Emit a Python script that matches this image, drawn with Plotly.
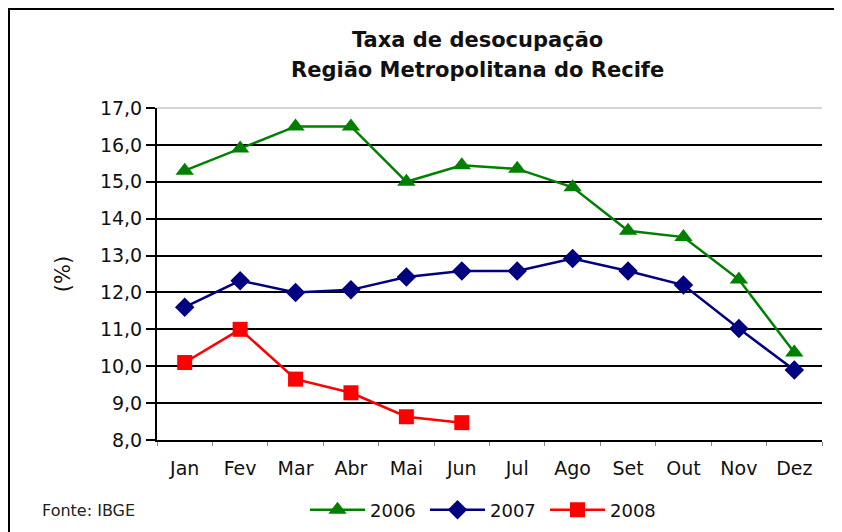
import plotly.graph_objects as go

months = ["Jan", "Fev", "Mar", "Abr", "Mai", "Jun", "Jul", "Ago", "Set", "Out", "Nov", "Dez"]
y2006 = [15.3, 15.9, 16.5, 16.5, 15.0, 15.45, 15.35, 14.85, 13.67, 13.5, 12.35, 10.37]
y2007 = [11.6, 12.32, 12.0, 12.07, 12.42, 12.58, 12.58, 12.92, 12.58, 12.2, 11.02, 9.9]
y2008 = [10.1, 11.0, 9.65, 9.28, 8.63, 8.47]
y_ticks = [8, 9, 10, 11, 12, 13, 14, 15, 16, 17]
grid_vals = [9, 10, 11, 12, 13, 14, 15, 16]

TICK_FONT = "DejaVu Sans"
OFF = 8  # page body margin
W, H = 842 - OFF, 532 - OFF
PL, PR, PT, PB = 157, 822, 108, 440  # plot area in page pixels


def px(x):
    return (x - PL) / (PR - PL)


def py(y):
    return (PB - y) / (PB - PT)


fig = go.Figure()
fig.add_trace(go.Scatter(x=months, y=y2006, name="2006", mode="lines+markers",
                         line=dict(color="#008000", width=2.5),
                         marker=dict(symbol="triangle-up", size=16, color="#008000")))
fig.add_trace(go.Scatter(x=months, y=y2007, name="2007", mode="lines+markers",
                         line=dict(color="#000080", width=2.5),
                         marker=dict(symbol="diamond", size=15, color="#000080")))
fig.add_trace(go.Scatter(x=months[:len(y2008)], y=y2008, name="2008", mode="lines+markers",
                         line=dict(color="#FF0000", width=2.5),
                         marker=dict(symbol="square", size=15, color="#FF0000")))

fig.update_layout(
    width=W, height=H,
    margin=dict(l=PL - OFF, r=W - (PR - OFF), t=PT - OFF, b=H - (PB - OFF)),
    paper_bgcolor="white", plot_bgcolor="white",
    separators=",.",
    showlegend=True,
    legend=dict(orientation="h", x=px(485), xanchor="center",
                yref="container", y=1 - (510 - OFF) / H, yanchor="middle",
                font=dict(family=TICK_FONT, size=18, color="#111"),
                itemwidth=55, entrywidth=50, tracegroupgap=0),
    xaxis=dict(
        type="category", categoryorder="array", categoryarray=months,
        range=[-0.5, 11.5],
        showline=True, linecolor="black", linewidth=2,
        ticks="outside", tickson="boundaries", ticklen=4, tickcolor="#888", tickwidth=1,
        ticklabelstandoff=10,
        showgrid=False, zeroline=False,
        tickfont=dict(family=TICK_FONT, size=19, color="#111"),
    ),
    yaxis=dict(
        range=[8, 17], tickmode="array", tickvals=y_ticks, tickformat=".1f",
        showline=True, linecolor="black", linewidth=2,
        ticks="outside", ticklen=9, tickcolor="black", tickwidth=2,
        showgrid=False, zeroline=False,
        minor=dict(tickmode="array", tickvals=grid_vals, showgrid=True,
                   gridcolor="black", gridwidth=2, ticks=""),
        tickfont=dict(family=TICK_FONT, size=19, color="#111"),
        title=dict(text="(%)", font=dict(family=TICK_FONT, size=21, color="#111"), standoff=24),
    ),
    shapes=[
        dict(type="line", xref="paper", yref="paper", x0=0, x1=1, y0=1, y1=1,
             line=dict(color="#c8c8c8", width=1.5)),
        dict(type="rect", xref="paper", yref="paper",
             x0=px(OFF + 1), x1=px(836),
             y0=py(545), y1=py(OFF + 1),
             line=dict(color="black", width=2), layer="above"),
    ],
    annotations=[
        dict(text="<b>Taxa de desocupação</b>", xref="paper", yref="paper",
             x=px(477), y=py(40), xanchor="center", yanchor="middle",
             showarrow=False, font=dict(family=TICK_FONT, size=21, color="#111")),
        dict(text="<b>Região Metropolitana do Recife</b>", xref="paper", yref="paper",
             x=px(477), y=py(70), xanchor="center", yanchor="middle",
             showarrow=False, font=dict(family=TICK_FONT, size=21, color="#111")),
        dict(text="Fonte: IBGE", xref="paper", yref="paper",
             x=px(40), y=py(510), xanchor="left", yanchor="middle",
             showarrow=False, font=dict(family=TICK_FONT, size=16, color="#222")),
    ],
)

fig.write_html("out.html")
